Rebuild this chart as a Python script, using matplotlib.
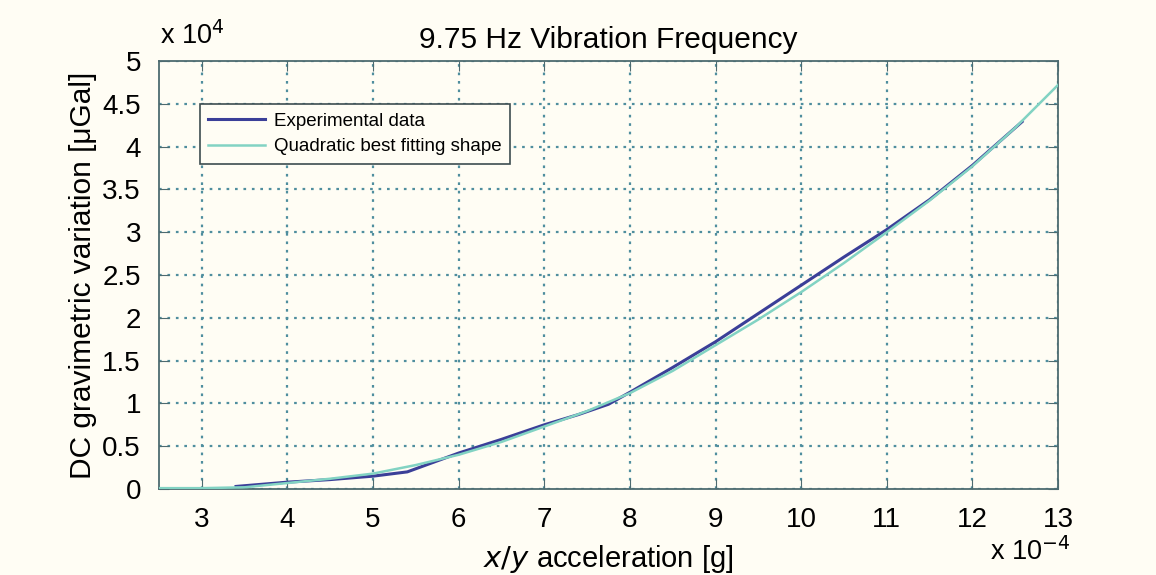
import matplotlib
matplotlib.use("Agg")
import matplotlib.pyplot as plt

plt.rcParams['font.family'] = ['Liberation Sans', 'DejaVu Sans']

# x in units of 1e-4 g, y in units of 1e4 uGal
exp_x = [3.4, 4.0, 4.5, 5.0, 5.4, 6.0, 6.5, 7.0, 7.4, 7.75, 8.0, 8.5, 9.0, 9.5, 10.0, 10.5, 11.0, 11.5, 12.0, 12.58]
exp_y = [0.03, 0.08, 0.11, 0.15, 0.20, 0.42, 0.58, 0.75, 0.87, 0.99, 1.13, 1.42, 1.72, 2.05, 2.38, 2.71, 3.03, 3.38, 3.78, 4.29]

fit_x = [2.5, 3.0, 3.5, 4.0, 4.5, 5.0, 5.5, 6.0, 6.5, 7.0, 7.5, 8.0, 8.5, 9.0, 9.5, 10.0, 10.5, 11.0, 11.5, 12.0, 12.5, 13.0]
fit_y = [0.01, 0.01, 0.02, 0.07, 0.12, 0.18, 0.28, 0.40, 0.55, 0.73, 0.91, 1.12, 1.38, 1.68, 1.98, 2.30, 2.64, 3.00, 3.37, 3.77, 4.22, 4.72]

x_ticks = [3, 4, 5, 6, 7, 8, 9, 10, 11, 12, 13]
y_ticks = [0, 0.5, 1, 1.5, 2, 2.5, 3, 3.5, 4, 4.5, 5]
y_labels = ['0', '0.5', '1', '1.5', '2', '2.5', '3', '3.5', '4', '4.5', '5']

bg = '#fffdf4'
fig = plt.figure(figsize=(11.56, 5.75), dpi=100, facecolor=bg)
ax = fig.add_axes([159 / 1156, 1 - 489 / 575, (1058 - 159) / 1156, (489 - 61) / 575])
ax.set_facecolor(bg)

ax.plot(exp_x, exp_y, color='#3b3f98', lw=2.2, label='Experimental data', zorder=3)
ax.plot(fit_x, fit_y, color='#82d3c3', lw=1.8, label='Quadratic best fitting shape', zorder=4)

ax.set_xlim(2.5, 13)
ax.set_ylim(0, 5)
ax.set_xticks(x_ticks)
ax.set_yticks(y_ticks)
ax.set_yticklabels(y_labels)
ax.tick_params(direction='in', top=True, right=True, labelsize=20, length=7,
               color='#4d6b70', pad=13)
ax.grid(True, linestyle=(0, (1.2, 2.6)), color='#4f8e9e', lw=1.6)
for s in ax.spines.values():
    s.set_color('#4d6b70')
    s.set_linewidth(1.3)

ax.set_title('9.75 Hz Vibration Frequency', fontsize=21.5, pad=9)
ax.set_ylabel('DC gravimetric variation [\u03bcGal]', fontsize=21.5, labelpad=4)
ax.set_xlabel('$\\mathit{x/y}$ acceleration [g]', fontsize=21, labelpad=7)
fig.text(160 / 1156, 1 - 36 / 575, 'x 10$^{4}$', fontsize=19.5, va='center', ha='left')
fig.text(990 / 1156, 1 - 552 / 575, 'x 10$^{-4}$', fontsize=19.5, va='center', ha='left')

leg = ax.legend(loc='upper left', bbox_to_anchor=((200 - 159) / 899, (489 - 104) / 428),
                fontsize=13.5, frameon=True, fancybox=False, handlelength=3.0,
                handletextpad=0.5, borderpad=0.45, labelspacing=0.45, borderaxespad=0)
leg.get_frame().set_edgecolor('#3d4d50')
leg.get_frame().set_facecolor(bg)
leg.get_frame().set_alpha(1)
leg.get_frame().set_linewidth(1.2)

fig.savefig('out.png', dpi=100, facecolor=bg)
